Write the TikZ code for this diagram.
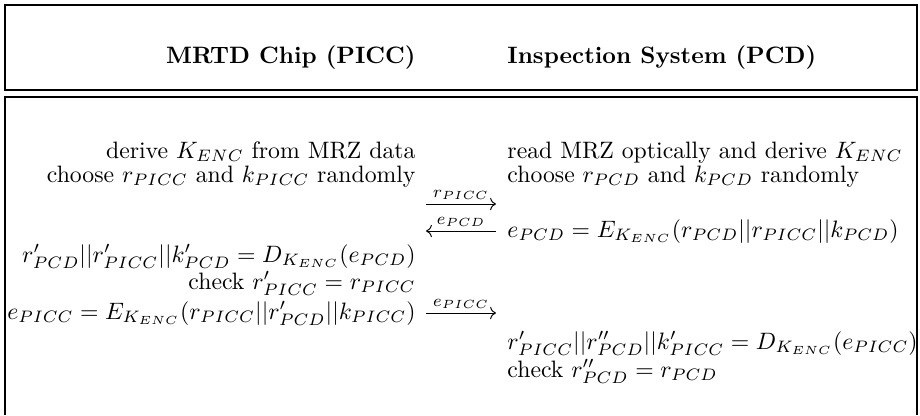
\documentclass[tikz,border=0pt]{standalone}
\usepackage{amsmath}
\usetikzlibrary{arrows.meta}
\begin{document}
\begin{tikzpicture}[x=0.4215pt,y=-0.4215pt,
  frame/.style={line width=0.8pt},
  lcol/.style={anchor=base east, inner sep=0pt},
  rcol/.style={anchor=base west, inner sep=0pt},
  msg/.style={line width=0.4pt, -{Computer Modern Rightarrow}},
  msglabel/.style={anchor=base, inner sep=0pt}]
\useasboundingbox (0,0) rectangle (920,415);
% header box and protocol box
\draw[frame] (5,5) rectangle (917,90);
\draw[frame] (5,415) -- (5,97) -- (917,97) -- (917,415);
% column titles
\node[lcol] (hdrL) at (416,63) {\textbf{MRTD Chip (PICC)}};
\node[rcol] (hdrR) at (507,63) {\textbf{Inspection System (PCD)}};
% chip side
\node[lcol] (c1) at (416,158) {derive $K_{ENC}$ from MRZ data};
\node[lcol] (c2) at (416,182) {choose $r_{PICC}$ and $k_{PICC}$ randomly};
\node[lcol] (c3) at (416,262) {$r'_{PCD}||r'_{PICC}||k'_{PCD} = D_{K_{ENC}}(e_{PCD})$};
\node[lcol] (c4) at (416,289) {check $r'_{PICC} = r_{PICC}$};
\node[lcol] (c5) at (416,319) {$e_{PICC} = E_{K_{ENC}}(r_{PICC}||r'_{PCD}||k_{PICC})$};
% terminal side
\node[rcol] (t1) at (507,158) {read MRZ optically and derive $K_{ENC}$};
\node[rcol] (t2) at (507,182) {choose $r_{PCD}$ and $k_{PCD}$ randomly};
\node[rcol] (t3) at (507,237) {$e_{PCD} = E_{K_{ENC}}(r_{PCD}||r_{PICC}||k_{PCD})$};
\node[rcol] (t4) at (507,349) {$r'_{PICC}||r''_{PCD}||k'_{PICC} = D_{K_{ENC}}(e_{PICC})$};
\node[rcol] (t5) at (507,377) {check $r''_{PCD} = r_{PCD}$};
% messages
\coordinate (m1w) at (426,204); \coordinate (m1e) at (496,204);
\coordinate (m2w) at (426,231); \coordinate (m2e) at (496,231);
\coordinate (m3w) at (426,313); \coordinate (m3e) at (496,313);
\draw[msg] (m1w) -- (m1e);
\draw[msg] (m2e) -- (m2w);
\draw[msg] (m3w) -- (m3e);
\node[msglabel] (l1) at (461,197) {$\scriptstyle r_{PICC}$};
\node[msglabel] (l2) at (461,224) {$\scriptstyle e_{PCD}$};
\node[msglabel] (l3) at (461,306) {$\scriptstyle e_{PICC}$};
\end{tikzpicture}
\end{document}
